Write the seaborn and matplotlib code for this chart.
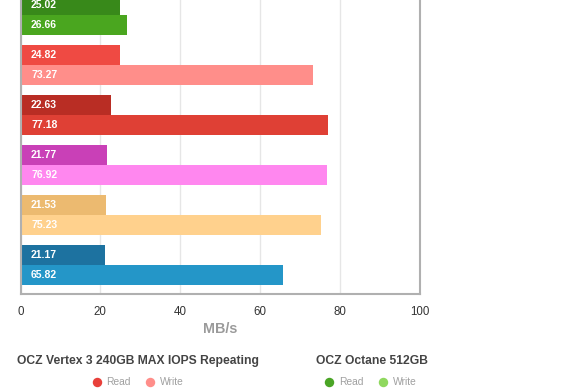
import matplotlib
matplotlib.use("Agg")
import matplotlib.pyplot as plt
from matplotlib.lines import Line2D
import seaborn as sns
import pandas as pd

devices = ["OCZ Octane 512GB", "OCZ Vertex 3 240GB MAX IOPS Repeating",
           "Drive C", "Drive D", "Drive E", "Drive F"]
read_vals = [25.02, 24.82, 22.63, 21.77, 21.53, 21.17]
write_vals = [26.66, 73.27, 77.18, 76.92, 75.23, 65.82]
read_colors = ["#38891a", "#ef4a43", "#b92d24", "#c940b7", "#ecba70", "#1d72a0"]
write_colors = ["#4aa61f", "#ff8e8a", "#df4035", "#ff87ef", "#ffd18d", "#2496c8"]
x_ticks = [0, 20, 40, 60, 80, 100]

sns.set_theme(style="white")
plt.rcParams["font.family"] = ["Liberation Sans", "DejaVu Sans"]

df = pd.DataFrame({
    "device": devices * 2,
    "type": ["Read"] * len(devices) + ["Write"] * len(devices),
    "value": read_vals + write_vals,
})

W, H = 580, 390
fig = plt.figure(figsize=(W / 100, H / 100), dpi=100)
ax = fig.add_axes([20.5 / W, 1 - 294 / H, (419.5 - 20.5) / W, 304 / H])

sns.barplot(data=df, y="device", x="value", hue="type", hue_order=["Read", "Write"],
            order=devices, orient="h", width=0.8, saturation=1, legend=False, ax=ax)

for p in ax.patches:
    yc = p.get_y() + p.get_height() / 2
    i = int(round(yc))
    if i < 0 or i >= len(devices):
        continue
    is_read = yc < i
    p.set_facecolor(read_colors[i] if is_read else write_colors[i])
    p.set_edgecolor("none")
    val = read_vals[i] if is_read else write_vals[i]
    ax.annotate(f"{val:.2f}", xy=(0, yc), xytext=(7.6, 0), textcoords="offset points",
                ha="left", va="center", color="white", fontsize=7.5, fontweight="bold")

ax.set_xlim(0, 100)
ax.set_ylim(5.58, -0.5)
ax.set_xticks(x_ticks)
ax.set_xticklabels([str(t) for t in x_ticks])
ax.set_yticks([])
ax.set_xlabel("")
ax.set_ylabel("")
ax.tick_params(axis="x", length=0, pad=8.5, labelsize=8.3, labelcolor="#333333")
ax.xaxis.grid(True, color="#e6e6e6", lw=1)
ax.set_axisbelow(True)
for s in ["left", "right", "bottom"]:
    ax.spines[s].set_color("#b0b0b0")
    ax.spines[s].set_linewidth(1.5)
ax.spines["top"].set_visible(False)

fig.text(220 / W, 1 - 329.3 / H, "MB/s", ha="center", va="center",
         fontsize=10.4, fontweight="bold", color="#9a9a9a")

# Legend
def fx(px):
    return px / W

def fy(py):
    return 1 - py / H

fig.text(fx(17.3), fy(361), "OCZ Vertex 3 240GB MAX IOPS Repeating", ha="left", va="center",
         fontsize=8.7, fontweight="bold", color="#444444")
fig.text(fx(315.7), fy(361), "OCZ Octane 512GB", ha="left", va="center",
         fontsize=8.7, fontweight="bold", color="#444444")
legend_items = [
    (97.3, "#e8403a", 105.7, "Read"),
    (150, "#ff8e8a", 160, "Write"),
    (329.3, "#4aa526", 339, "Read"),
    (383.3, "#8fd85e", 392.7, "Write"),
]
for cx, col, tx, lab in legend_items:
    fig.add_artist(Line2D([fx(cx)], [fy(381.7)], marker="o", markersize=6.8,
                          markerfacecolor=col, markeredgecolor="none", linestyle="none",
                          transform=fig.transFigure))
    fig.text(fx(tx), fy(381.7), lab, ha="left", va="center", fontsize=7.4, color="#a0a0a0")

fig.savefig("out.png", dpi=100)
